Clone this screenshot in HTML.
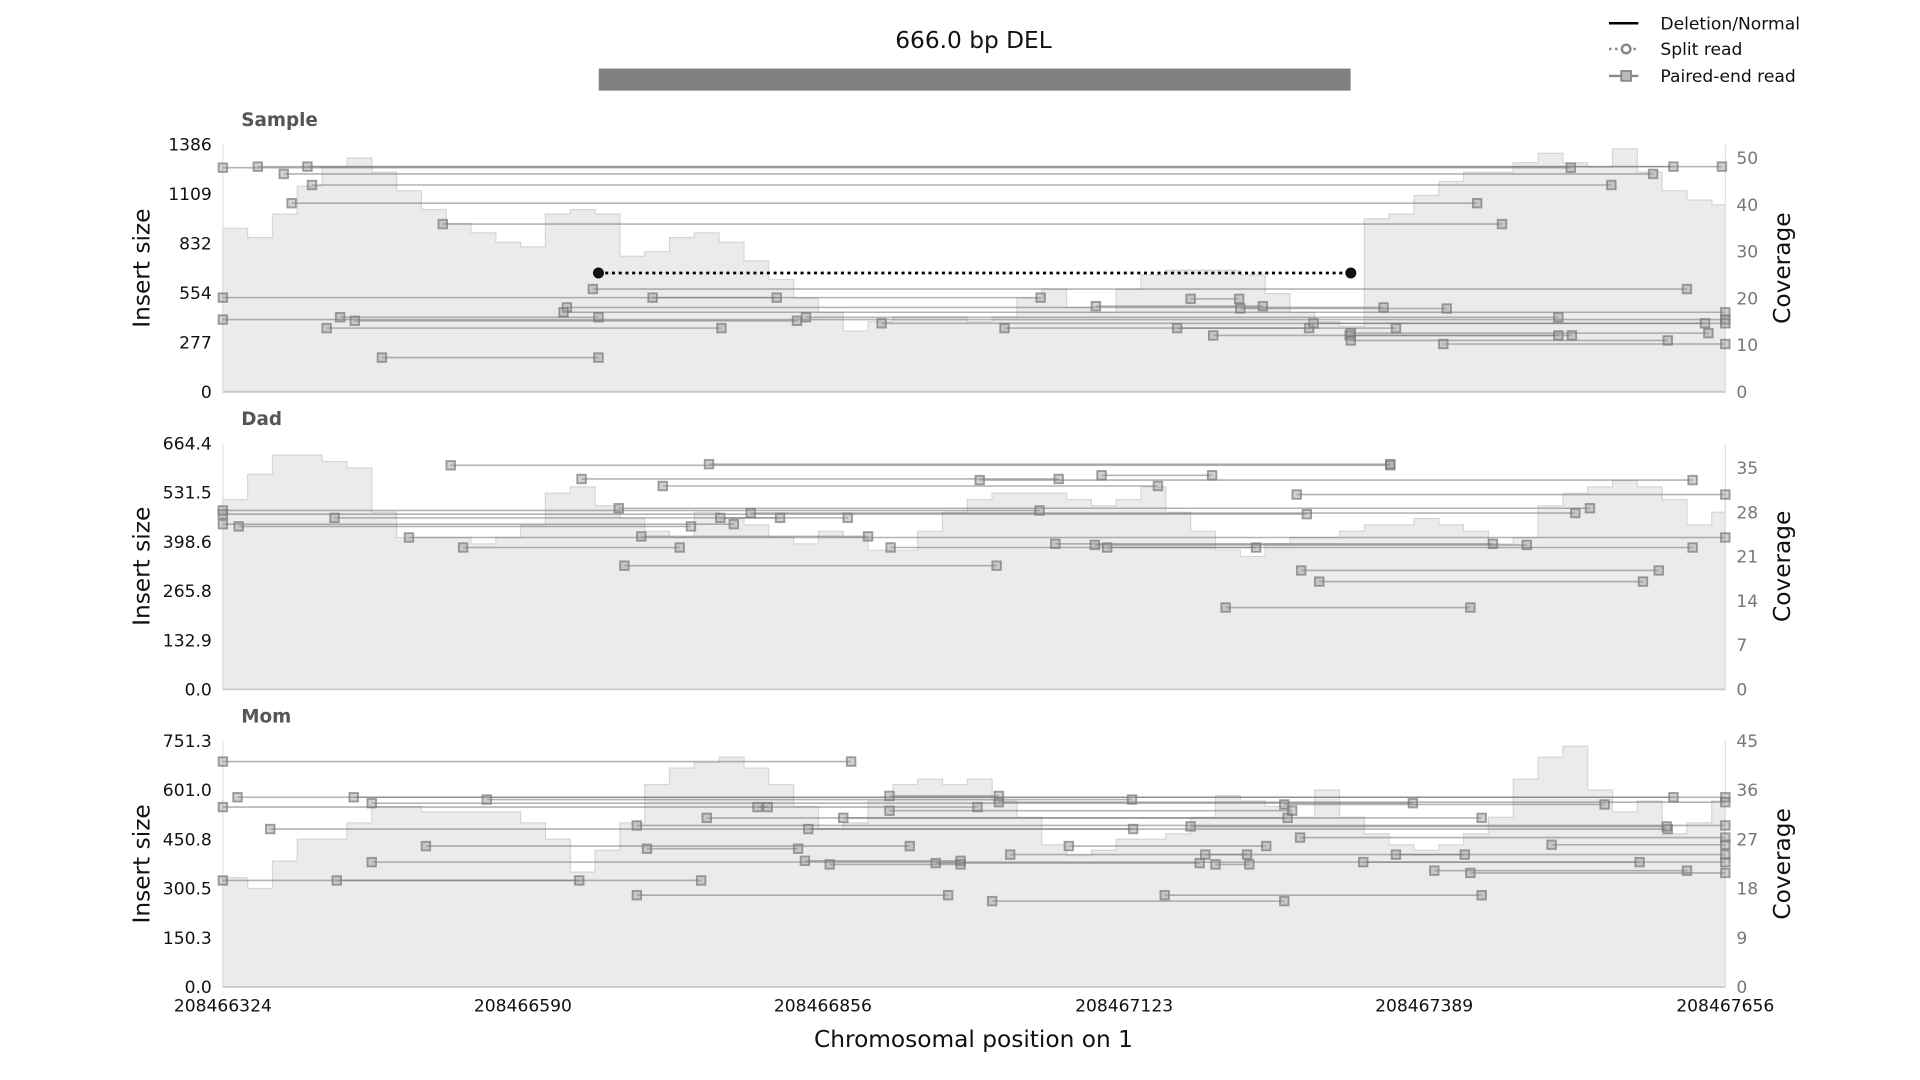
<!DOCTYPE html>
<html><head><meta charset="utf-8"><style>
html,body{margin:0;padding:0;background:#fff;}
svg{display:block;font-family:"DejaVu Sans","Liberation Sans",sans-serif;}
</style></head><body>
<svg id="chart" width="1920" height="1080" viewBox="0 0 1568 882" preserveAspectRatio="none" xmlns="http://www.w3.org/2000/svg">
<text x="795" y="39" font-size="19" text-anchor="middle" fill="#111">666.0 bp DEL</text>
<rect x="489" y="56" width="614" height="18" fill="#808080"/>
<g font-size="14" fill="#111">
 <g><line x1="1314" y1="19" x2="1338" y2="19" stroke="#000" stroke-width="2"/><text x="1356" y="24">Deletion/Normal</text></g>
 <g><line x1="1314" y1="40" x2="1338" y2="40" stroke="#888" stroke-width="2" stroke-dasharray="2,3"/><circle cx="1328" cy="40" r="3.5" fill="#fff" stroke="#888" stroke-width="2"/><text x="1356" y="45">Split read</text></g>
 <g><line x1="1314" y1="62" x2="1338" y2="62" stroke="#888" stroke-width="2"/><rect x="1324" y="58" width="8" height="8" fill="#bbb" stroke="#888" stroke-width="1.5"/><text x="1356" y="67">Paired-end read</text></g>
</g>
<g id="panels"></g>
<g id="xaxis"></g>
<text x="795" y="855" font-size="19" text-anchor="middle" fill="#111">Chromosomal position on 1</text>
</svg>
<script>
const regionStart = 208466324;
const regionEnd = 208467656;
const xTickLabels = ["208466324","208466590","208466856","208467123","208467389","208467656"];
const covOffsets = [0,22,44,66,88,110,132,154,176,198,220,242,264,286,308,330,352,374,396,418,440,462,484,506,528,550,572,594,616,638,660,682,704,726,748,770,792,814,836,858,880,902,924,946,968,990,1012,1034,1056,1078,1100,1122,1144,1166,1188,1210,1232,1254,1276,1298,1320,1332];
const sampleCoverage = [35,33,38,44,48,50,47,43,39,36,34,32,31,38,39,38,29,30,33,34,32,28,24,20,17,13,15,16,16,16,15,16,20,22,18,17,22,25,26,26,26,25,21,17,15,14,37,38,42,45,47,47,49,51,49,48,52,47,43,41,40,39];
const dadCoverage = [30,34,37,37,36,35,28,24,24,24,23,24,26,31,32,29,27,25,24,28,27,26,24,23,25,24,22,22,25,28,30,31,31,31,30,29,30,32,28,25,22,21,23,24,24,25,26,26,27,26,25,23,24,29,31,32,33,32,30,26,28,30];
const momCoverage = [20,18,23,27,27,30,33,33,32,32,32,32,30,27,21,25,30,37,40,41,42,40,37,33,29,30,34,37,38,37,38,34,31,26,24,25,27,27,28,31,35,34,33,31,36,31,28,26,25,26,28,31,38,42,44,36,32,34,28,30,34,35];
// reads: start offset, end offset, insert size
const sampleReadStart = [0,31,75,54,79,61,195,328,381,0,305,302,104,0,117,92,517,584,693,846,902,967,878,999,1000,1000,1082,141,858,774];
const sampleReadEnd   = [1195,1329,1286,1268,1231,1112,1134,1298,491,725,1029,1332,333,1332,509,442,1184,1332,963,1040,1085,1314,1196,1184,1317,1281,1332,333,901,922];
const sampleReadSize  = [1256,1262,1262,1221,1159,1057,940,576,528,528,473,446,418,405,398,357,418,384,357,357,467,384,316,316,329,288,268,192,521,480];
const splitStart = [333];
const splitEnd = [1000];
const splitSize = [666];
const dadReadStart = [202,431,318,779,671,390,952,351,0,468,0,99,441,0,14,165,371,213,592,738,773,784,356,956,972,889];
const dadReadEnd   = [1035,1035,741,877,1303,829,1332,1212,961,1199,724,494,554,453,415,1332,572,405,916,1126,1156,1303,686,1273,1259,1106];
const dadReadSize  = [605,608,568,578,565,549,526,489,473,476,483,463,463,446,440,410,413,383,383,393,390,383,334,321,291,221];
const momReadStart = [0,13,116,0,132,234,591,688,429,474,550,591,941,42,367,519,858,955,180,376,750,1178,132,516,538,698,871,632,880,1011,1040,1074,1106,0,101,367,682,835];
const momReadEnd   = [557,1332,1286,483,1055,806,688,1332,1116,669,944,948,1225,807,1332,1281,1280,1332,609,510,925,1332,1332,654,654,908,1332,866,910,1256,1101,1298,1332,316,424,643,941,1116];
const momReadSize  = [688,579,579,549,561,572,583,564,516,549,516,538,557,482,493,482,490,456,430,422,430,434,381,385,374,404,404,378,374,381,404,355,348,325,325,280,262,280];
const sampleLeftTicks = ["0","277","554","832","1109","1386"];
const sampleRightTicks = [0,10,20,30,40,50];
const dadLeftTicks = ["0.0","132.9","265.8","398.6","531.5","664.4"];
const dadRightTicks = [0,7,14,21,28,35];
const momLeftTicks = ["0.0","150.3","300.5","450.8","601.0","751.3"];
const momRightTicks = [0,9,18,27,36,45];

const NS="http://www.w3.org/2000/svg";
const X0=182, X1=1409;
function xs(off){return X0+(off/(regionEnd-regionStart))*(X1-X0);}
function mk(tag,attrs,parent){const e=document.createElementNS(NS,tag);for(const k in attrs)e.setAttribute(k,attrs[k]);parent.appendChild(e);return e;}

const panelsG=document.getElementById('panels');
const panels=[
 {name:"Sample",top:118,bot:320,lmax:1386,rmax:52.9,cov:sampleCoverage,rs:sampleReadStart,re:sampleReadEnd,rz:sampleReadSize,lt:sampleLeftTicks,rt:sampleRightTicks,split:true},
 {name:"Dad",top:362,bot:563,lmax:664.4,rmax:38.9,cov:dadCoverage,rs:dadReadStart,re:dadReadEnd,rz:dadReadSize,lt:dadLeftTicks,rt:dadRightTicks},
 {name:"Mom",top:605,bot:806,lmax:751.3,rmax:45,cov:momCoverage,rs:momReadStart,re:momReadEnd,rz:momReadSize,lt:momLeftTicks,rt:momRightTicks}
];
panels.forEach(p=>{
 const g=mk('g',{},panelsG);
 
 
 const yl=v=>p.bot-(v/p.lmax)*(p.bot-p.top);
 const yr=v=>p.bot-(v/p.rmax)*(p.bot-p.top);
 let d='M'+xs(covOffsets[0])+','+p.bot;
 for(let i=0;i<p.cov.length;i++){
  const x=xs(covOffsets[i]);const xn=i+1<p.cov.length?xs(covOffsets[i+1]):X1;
  d+=' L'+x+','+yr(p.cov[i])+' L'+xn+','+yr(p.cov[i]);
 }
 d+=' L'+X1+','+p.bot+' Z';
 const area=mk('path',{d:d,fill:'#ebebeb',stroke:'#d6d6d6','stroke-width':1},g);
 
 
 mk('line',{x1:X0,y1:p.bot,x2:X1,y2:p.bot,stroke:'#c8c8c8','stroke-width':1.5},g);
 mk('line',{x1:X0,y1:p.top,x2:X0,y2:p.bot,stroke:'#e0e0e0','stroke-width':1},g);
 mk('line',{x1:X1,y1:p.top,x2:X1,y2:p.bot,stroke:'#e0e0e0','stroke-width':1},g);
 for(let i=0;i<p.rs.length;i++){
  const rg=mk('g',{},g);
  
  
  const y=yl(p.rz[i]),a=xs(p.rs[i]),b=xs(p.re[i]);
  mk('line',{x1:a,y1:y,x2:b,y2:y,stroke:'#777','stroke-opacity':0.55,'stroke-width':1.3},rg);
  [a,b].forEach(x=>{mk('rect',{x:x-3.5,y:y-3.5,width:7,height:7,fill:'#999','fill-opacity':0.45,stroke:'#777','stroke-opacity':0.7,'stroke-width':1.5},rg);});
 }
 if(p.split){
  for(let i=0;i<splitStart.length;i++){
   const sg=mk('g',{},g);
   
   
   const y=yl(splitSize[i]),a=xs(splitStart[i]),b=xs(splitEnd[i]);
   mk('line',{x1:a,y1:y,x2:b,y2:y,stroke:'#000','stroke-width':2.2,'stroke-dasharray':'2.5,3'},sg);
   mk('circle',{cx:a,cy:y,r:4.5,fill:'#111'},sg);
   mk('circle',{cx:b,cy:y,r:4.5,fill:'#111'},sg);
  }
 }
 p.lt.forEach((t,i)=>{
  const v=parseFloat(t);
  const tx=mk('text',{x:173,y:yl(v)+5,'font-size':14,'text-anchor':'end',fill:'#111'},g);tx.textContent=t;
  
  
 });
 p.rt.forEach(v=>{
  const tx=mk('text',{x:1418,y:yr(v)+5,'font-size':14,fill:'#777'},g);tx.textContent=String(v);
  
  
 });
 const nm=mk('text',{x:197,y:p.top-15,'font-size':15,'font-weight':'bold',fill:'#555'},g);nm.textContent=p.name;
 
 
 const cy=(p.top+p.bot)/2;
 const ly=mk('text',{x:0,y:0,'font-size':19,'text-anchor':'middle',fill:'#111',transform:'translate(122,'+cy+') rotate(-90)'},g);ly.textContent='Insert size';
 
 
 const ry=mk('text',{x:0,y:0,'font-size':19,'text-anchor':'middle',fill:'#111',transform:'translate(1462,'+cy+') rotate(-90)'},g);ry.textContent='Coverage';
 
 
});
const xa=document.getElementById('xaxis');
xTickLabels.forEach(t=>{
 const off=parseInt(t)-regionStart;
 const tx=mk('text',{x:xs(off),y:826,'font-size':14,'text-anchor':'middle',fill:'#111'},xa);tx.textContent=t;
 
 
});
</script>
</body></html>
